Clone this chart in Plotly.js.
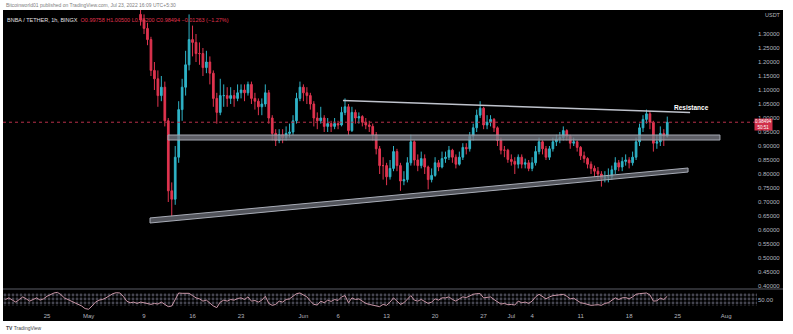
<!DOCTYPE html>
<html><head><meta charset="utf-8">
<script src="https://cdn.plot.ly/plotly-3.0.1.min.js"></script>
<style>html,body{margin:0;padding:0;background:#fff;}#chart{width:793px;height:334px;}</style>
</head><body><div id="chart"></div><script>
// ---------- DATA ----------
const candleStart = '2022-05-08T12:00:00Z';   // 12h candles
const openP = [
1.37,1.35,1.32,1.28,1.17,1.14,1.08,1.11,0.99,0.74,
0.71,0.86,1.03,1.11,1.19,1.28,1.27,1.23,1.23,1.18,
1.20,1.16,1.07,1.02,1.08,1.08,1.07,1.08,1.07,1.09,
1.10,1.09,1.12,1.07,1.06,1.04,1.05,1.09,1.00,0.945,
0.92,0.94,0.93,0.945,0.95,0.99,1.07,1.11,1.09,1.08,
1.05,1.00,0.99,1.00,0.97,0.98,0.97,0.98,0.975,1.02,
1.04,0.955,1.02,1.00,1.005,0.985,0.975,0.97,0.94,0.89,
0.83,0.83,0.79,0.82,0.88,0.83,0.775,0.78,0.84,0.915,
0.85,0.83,0.855,0.825,0.78,0.795,0.84,0.825,0.855,0.86,
0.885,0.86,0.835,0.86,0.895,0.89,0.935,0.965,1.01,1.035,
0.975,0.985,0.995,0.965,0.92,0.885,0.885,0.852,0.845,0.835,
0.86,0.835,0.84,0.82,0.84,0.88,0.915,0.89,0.86,0.89,
0.915,0.925,0.93,0.955,0.935,0.91,0.915,0.895,0.865,0.855,
0.835,0.82,0.81,0.80,0.785,0.79,0.79,0.815,0.84,0.825,
0.845,0.85,0.84,0.86,0.915,0.965,0.995,1.015,0.985,0.91,
0.915,0.945,0.935];
const highP = [
1.40,1.37,1.34,1.29,1.20,1.17,1.15,1.13,1.00,0.77,
0.90,1.06,1.14,1.24,1.37,1.33,1.30,1.27,1.25,1.24,
1.22,1.17,1.09,1.14,1.12,1.11,1.11,1.10,1.12,1.12,
1.12,1.13,1.13,1.09,1.07,1.07,1.12,1.10,1.01,0.96,
0.96,0.96,0.97,0.98,1.01,1.09,1.13,1.12,1.11,1.09,
1.06,1.02,1.04,1.01,1.00,0.99,1.00,0.99,1.04,1.07,
1.05,1.04,1.03,1.02,1.01,1.00,0.99,0.98,0.95,0.90,
0.86,0.84,0.85,0.90,0.89,0.84,0.81,0.86,0.94,0.92,
0.87,0.88,0.87,0.83,0.82,0.86,0.85,0.88,0.88,0.90,
0.89,0.87,0.88,0.91,0.91,0.95,0.98,1.03,1.06,1.04,
1.01,1.01,1.00,0.97,0.93,0.90,0.89,0.87,0.86,0.87,
0.87,0.855,0.85,0.86,0.90,0.93,0.92,0.90,0.90,0.93,
0.94,0.95,0.97,0.96,0.94,0.93,0.92,0.90,0.88,0.86,
0.845,0.83,0.825,0.81,0.81,0.82,0.83,0.86,0.85,0.86,
0.87,0.86,0.88,0.93,0.98,1.01,1.03,1.025,0.99,0.94,
0.97,0.96,1.005];
const lowP = [
1.33,1.30,1.26,1.15,1.10,1.04,1.06,0.97,0.70,0.65,
0.69,0.84,0.99,1.08,1.17,1.22,1.20,1.19,1.15,1.16,
1.12,1.04,0.98,1.01,1.04,1.04,1.05,1.04,1.06,1.07,
1.06,1.08,1.05,1.03,1.01,1.01,1.04,0.98,0.92,0.90,
0.91,0.91,0.92,0.93,0.94,0.98,1.06,1.06,1.05,1.03,
0.97,0.96,0.98,0.95,0.95,0.95,0.96,0.96,0.97,1.01,
0.94,0.95,0.98,0.98,0.97,0.96,0.95,0.92,0.87,0.80,
0.78,0.76,0.78,0.81,0.81,0.74,0.76,0.77,0.83,0.83,
0.81,0.82,0.80,0.745,0.77,0.79,0.81,0.82,0.84,0.85,
0.84,0.82,0.83,0.85,0.87,0.88,0.92,0.95,1.00,0.96,
0.96,0.97,0.95,0.90,0.87,0.86,0.84,0.83,0.80,0.82,
0.82,0.82,0.81,0.81,0.83,0.87,0.87,0.85,0.85,0.88,
0.90,0.91,0.92,0.92,0.89,0.90,0.88,0.85,0.84,0.82,
0.80,0.79,0.78,0.755,0.77,0.77,0.78,0.80,0.81,0.81,
0.83,0.82,0.83,0.85,0.90,0.95,0.98,0.96,0.88,0.89,
0.90,0.90,0.93];
const closeP = [
1.35,1.32,1.28,1.17,1.14,1.08,1.11,0.99,0.74,0.71,
0.86,1.03,1.11,1.19,1.28,1.27,1.23,1.23,1.18,1.20,
1.16,1.07,1.02,1.08,1.08,1.07,1.08,1.07,1.09,1.10,
1.09,1.12,1.07,1.06,1.04,1.05,1.09,1.00,0.945,0.92,
0.94,0.93,0.945,0.95,0.99,1.07,1.11,1.09,1.08,1.05,
1.00,0.99,1.00,0.97,0.98,0.97,0.98,0.975,1.02,1.04,
0.955,1.02,1.00,1.005,0.985,0.975,0.97,0.94,0.89,0.83,
0.83,0.79,0.82,0.88,0.83,0.775,0.78,0.84,0.915,0.85,
0.83,0.855,0.825,0.78,0.795,0.84,0.825,0.855,0.86,0.885,
0.86,0.835,0.86,0.895,0.89,0.935,0.965,1.01,1.035,0.975,
0.985,0.995,0.965,0.92,0.885,0.885,0.852,0.845,0.835,0.86,
0.835,0.84,0.82,0.84,0.88,0.915,0.89,0.86,0.89,0.915,
0.925,0.93,0.955,0.935,0.91,0.915,0.895,0.865,0.855,0.835,
0.82,0.81,0.80,0.785,0.79,0.79,0.815,0.84,0.825,0.845,
0.85,0.84,0.86,0.915,0.965,0.995,1.015,0.985,0.91,0.915,
0.945,0.935,0.98494];

const rsiStart = '2022-04-19T00:00:00Z';
const rsiValues = [
50,55,48,42,50,58,52,45,50,55,
48,52,60,66,70,72,65,55,50,45,
40,35,30,22,20,30,42,48,50,55,
62,68,71,70,60,45,40,42,38,42,
40,38,35,38,36,42,35,28,30,50,
70,69,68,69,62,55,52,45,48,40,
30,25,42,48,45,50,48,53,55,50,
58,45,47,42,48,60,38,32,35,45,
42,50,52,60,68,70,65,58,45,35,
33,45,40,48,44,50,47,58,62,40,
55,50,52,45,38,35,32,30,28,35,
32,42,55,45,35,40,52,62,48,45,
50,45,38,42,52,48,55,55,58,50,
45,52,58,56,62,66,68,68,55,56,
58,50,42,36,38,34,35,33,45,40,
42,38,45,58,66,60,52,58,62,63,
64,66,60,52,54,48,40,38,34,32,
33,34,32,38,40,48,55,50,55,56,
52,58,66,68,70,70,64,45,46,54,
50,60];
const rsiBand = [30, 70];
const rsiMid = 50;

const priceTicks = [0.40,0.45,0.50,0.55,0.60,0.65,0.70,0.75,0.80,0.85,0.90,0.95,1.00,1.05,1.10,1.15,1.20,1.25,1.30];
const timeTickVals = ['2022-04-25','2022-05-01','2022-05-09','2022-05-16','2022-05-23','2022-06-01','2022-06-06','2022-06-13','2022-06-20','2022-06-27','2022-07-01','2022-07-04','2022-07-11','2022-07-18','2022-07-25','2022-08-01'];
const timeTickText = ['25','May','9','16','23','Jun','6','13','20','27','Jul','4','11','18','25','Aug'];

// drawings (trendlines / zones), in date & price
const supportZone = {x0:'2022-05-12 11:00', x1:'2022-07-31 02:30', y0:0.9214, y1:0.9393};
const channelX = ['2022-05-09 20:40','2022-07-26 12:00','2022-07-26 12:00','2022-05-09 20:40','2022-05-09 20:40'];
const channelY = [0.643, 0.8214, 0.807, 0.625, 0.643];
const resistance = {x0:'2022-06-06 17:00', y0:1.0625, x1:'2022-07-26 19:00', y1:1.0196};
const resistanceLabel = {x:'2022-07-27 01:00', y:1.036, text:'Resistance'};

const headerSymbol = 'BNBA / TETHER, 1h, BINGX';
const headerOHLC = 'O0.99758 H1.00500 L0.98200 C0.98494 −0.01263 (−1.27%)';
const publishText = 'Bitcoinworld01 published on TradingView.com, Jul 23, 2022 16:09 UTC+5:30';
const countdown = '50:51';

// ---------- helpers ----------
function fmt(d){const p=n=>String(n).padStart(2,'0');return d.getUTCFullYear()+'-'+p(d.getUTCMonth()+1)+'-'+p(d.getUTCDate())+' '+p(d.getUTCHours())+':'+p(d.getUTCMinutes());}
function series(start,n){const t0=Date.parse(start);return Array.from({length:n},(_,i)=>fmt(new Date(t0+i*12*3600e3)));}
const candleDates = series(candleStart, closeP.length);
const rsiDates = series(rsiStart, rsiValues.length);

// layout geometry (plot area = x 3..783, y 10..321)
const W=793,H=334,ML=3,MR=10,MT=10,MB=13;
const PW=W-ML-MR, PH=H-MT-MB;
const px=x=>(x-ML)/PW, py=y=>(H-MB-y)/PH;
const xEnd = px(757);
const xRange = ['2022-04-18 15:36','2022-08-05 10:48'];

const UP='#2fb3c7', DOWN='#e0344f', TXT='#b2b5be', FONT='Liberation Sans, Arial, sans-serif';
const lastClose = closeP[closeP.length-1];

const traces = [
 {type:'candlestick', x:candleDates, open:openP, high:highP, low:lowP, close:closeP,
  xaxis:'x', yaxis:'y', whiskerwidth:0, hoverinfo:'skip',
  increasing:{line:{color:UP,width:1},fillcolor:UP},
  decreasing:{line:{color:DOWN,width:1},fillcolor:DOWN}},
 {type:'scatter', mode:'lines', x:channelX, y:channelY, xaxis:'x', yaxis:'y',
  fill:'toself', fillcolor:'rgba(110,112,122,0.75)', line:{color:'#a8acb6',width:1}, hoverinfo:'skip'},
 {type:'scatter', mode:'lines', x:[xRange[0],xRange[1],xRange[1],xRange[0],xRange[0]],
  y:[rsiBand[1],rsiBand[1],rsiBand[0],rsiBand[0],rsiBand[1]], xaxis:'x2', yaxis:'y2',
  fill:'toself', fillcolor:'rgba(0,0,0,0)', line:{width:0},
  fillpattern:{shape:'.', fgcolor:'#44444f', size:4, solidity:0.4}, hoverinfo:'skip'},
 {type:'scatter', mode:'lines', x:rsiDates, y:rsiValues, xaxis:'x2', yaxis:'y2',
  line:{color:'#c895a6',width:1}, hoverinfo:'skip'}
];

const layout = {
 width:W, height:H, margin:{l:ML,r:MR,t:MT,b:MB,pad:0},
 paper_bgcolor:'#ffffff', plot_bgcolor:'#000000', showlegend:false,
 font:{family:FONT, size:6, color:TXT},
 xaxis:{domain:[0,xEnd], range:xRange, type:'date', anchor:'y', showticklabels:false, showgrid:false, zeroline:false, showline:false, ticks:'', rangeslider:{visible:false}, fixedrange:true},
 xaxis2:{domain:[0,xEnd], matches:'x', type:'date', anchor:'y2', tickmode:'array', tickvals:timeTickVals, ticktext:timeTickText, showgrid:false, zeroline:false, showline:false, ticks:'', tickfont:{size:6,color:TXT}},
 yaxis:{domain:[py(289),py(10)], range:[0.3893,1.3857], side:'right', anchor:'free', position:xEnd, tickmode:'array', tickvals:priceTicks, tickformat:'.5f', showgrid:false, zeroline:false, showline:false, ticks:'', tickfont:{size:6,color:TXT}},
 yaxis2:{domain:[py(311),py(289)], range:[14.6,82.3], side:'right', anchor:'free', position:xEnd, tickmode:'array', tickvals:[rsiMid], ticktext:[rsiMid.toFixed(2)], showgrid:false, zeroline:false, showline:false, ticks:'', tickfont:{size:6,color:TXT}},
 shapes:[
  {type:'rect', xref:'paper', yref:'paper', x0:0, x1:1, y0:0, y1:1, fillcolor:'#000', line:{width:0}, layer:'below'},
  {type:'rect', xref:'x', yref:'y', x0:supportZone.x0, x1:supportZone.x1, y0:supportZone.y0, y1:supportZone.y1, fillcolor:'rgba(120,122,132,0.78)', line:{color:'#a4a8b2',width:1}, layer:'above'},
  {type:'line', xref:'x', yref:'y', x0:resistance.x0, y0:resistance.y0, x1:resistance.x1, y1:resistance.y1, line:{color:'#bfc3cc',width:1.6}, layer:'above'},
  {type:'line', xref:'paper', yref:'y', x0:0, x1:xEnd, y0:lastClose, y1:lastClose, line:{color:'#b8304a',width:1,dash:'dot'}, layer:'above'},
  {type:'line', xref:'paper', yref:'paper', x0:0, x1:1, y0:py(289), y1:py(289), line:{color:'#5a5d66',width:1}}
 ],
 annotations:[
  {xref:'paper', yref:'paper', x:px(4), y:py(5), xanchor:'left', yanchor:'middle', text:publishText, showarrow:false, font:{size:5,color:'#808080'}},
  {xref:'paper', yref:'paper', x:px(5), y:py(20), xanchor:'left', yanchor:'middle', showarrow:false,
   text:'<span style="color:#e0e0e0">'+headerSymbol+'</span>  <span style="color:#e0344f">'+headerOHLC+'</span>', font:{size:5.5}},
  {xref:'paper', yref:'paper', x:px(763), y:py(15), xanchor:'left', yanchor:'middle', text:'USDT', showarrow:false, font:{size:5.5,color:TXT}},
  {xref:'x', yref:'y', x:resistanceLabel.x, y:resistanceLabel.y, text:'<b>'+resistanceLabel.text+'</b>', showarrow:false, font:{size:6.5,color:'#ffffff'}},
  {xref:'paper', yref:'y', x:px(773), y:lastClose, yanchor:'middle', yshift:-2, text:lastClose.toFixed(5)+'<br>'+countdown, showarrow:false, bgcolor:'#d0304a', font:{size:4.5,color:'#ffffff'}, borderpad:0},
  {xref:'paper', yref:'paper', x:px(4), y:py(328), xanchor:'left', yanchor:'middle', text:'<b>TV</b> TradingView', showarrow:false, font:{size:5,color:'#444'}}
 ]
};

Plotly.newPlot('chart', traces, layout, {staticPlot:true, displayModeBar:false});
</script></body></html>
